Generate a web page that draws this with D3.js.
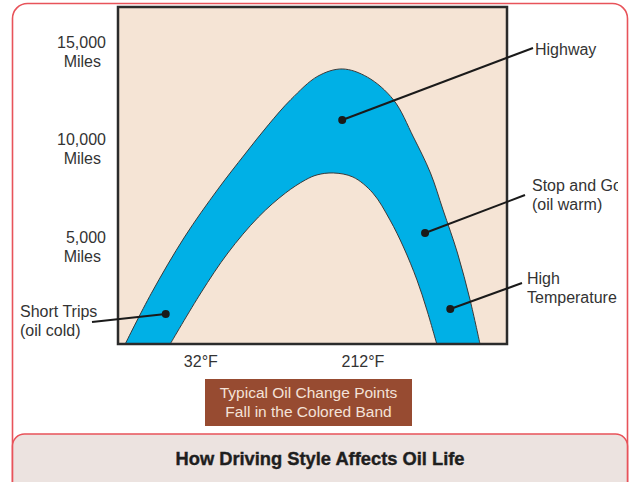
<!DOCTYPE html>
<html>
<head>
<meta charset="utf-8">
<script src="https://cdn.jsdelivr.net/npm/d3@7"></script>
<style>
  html, body { margin: 0; padding: 0; background: #fff; }
  text { font-family: "Liberation Sans", Arial, Helvetica, sans-serif; }
</style>
</head>
<body>
<div id="chart"></div>
<script>
// data: temperature (°F) vs. miles between oil changes
const outerTemp  = [-52, -23, 14, 51, 81, 107, 132, 162, 189, 217, 246, 268, 287, 301, 317, 331, 342];
const outerMiles = [0, 2600, 5500, 7950, 9750, 11250, 12550, 13750, 14120, 13700, 12530, 10630, 8780, 6880, 4670, 2260, 0];
const innerTemp  = [-2, 32, 62, 96, 126, 148, 161, 179, 201, 223, 242, 257, 272, 283, 294];
const innerMiles = [0, 2620, 4670, 6520, 7750, 8420, 8680, 8780, 8570, 7750, 6370, 4980, 3290, 1750, 0];

const yTicks = [5000, 10000, 15000];
const yTickLabels = ["5,000", "10,000", "15,000"];
const xTicks = [32, 212];
const xTickLabels = ["32°F", "212°F"];

// callouts: point on the band + label text
const noteNames = ["Highway", "Stop and Go", "High Temperature", "Short Trips"];
const noteTemp  = [189, 281, 309, -7];
const noteMiles = [11500, 5700, 1800, 1540];
const noteLines = [["Highway"], ["Stop and Go", "(oil warm)"], ["High", "Temperature"], ["Short Trips", "(oil cold)"]];

const width = 634, height = 482;
const plot = { left: 118, top: 7, right: 507, bottom: 344 };

const svg = d3.select("#chart").append("svg")
  .attr("width", width).attr("height", height)
  .style("display", "block");

// outer red frame
svg.append("rect")
  .attr("x", 12.5).attr("y", 3.5).attr("width", 615).attr("height", 520)
  .attr("rx", 15).attr("fill", "#fff")
  .attr("stroke", "#e8535a").attr("stroke-width", 1.6);

const x = d3.scaleLinear().domain([-60, 372]).range([plot.left, plot.right]);
const y = d3.scaleLinear().domain([0, 17300]).range([plot.bottom, plot.top]);

// plot background
svg.append("rect")
  .attr("x", plot.left).attr("y", plot.top)
  .attr("width", plot.right - plot.left).attr("height", plot.bottom - plot.top)
  .attr("fill", "#f5e4d5");

const outer = outerTemp.map((t, i) => [t, outerMiles[i]]);
const inner = innerTemp.map((t, i) => [t, innerMiles[i]]);

const area = d3.area()
  .x(d => x(d[0])).y0(y(0)).y1(d => y(d[1]))
  .curve(d3.curveCatmullRom.alpha(0.5));
const line = d3.line()
  .x(d => x(d[0])).y(d => y(d[1]))
  .curve(d3.curveCatmullRom.alpha(0.5));

svg.append("path").datum(outer).attr("d", area).attr("fill", "#00b0e6");
svg.append("path").datum(inner).attr("d", area).attr("fill", "#f5e4d5");
svg.append("path").datum(outer).attr("d", line)
  .attr("fill", "none").attr("stroke", "#3a3a3a").attr("stroke-width", 1);
svg.append("path").datum(inner).attr("d", line)
  .attr("fill", "none").attr("stroke", "#3a3a3a").attr("stroke-width", 1);

// plot frame
svg.append("rect")
  .attr("x", plot.left).attr("y", plot.top)
  .attr("width", plot.right - plot.left).attr("height", plot.bottom - plot.top)
  .attr("fill", "none").attr("stroke", "#2b2b2b").attr("stroke-width", 2.5);

// y labels (value + "Miles")
const yl = svg.append("g").selectAll("g").data(yTicks).enter().append("g");
yl.append("text")
  .attr("x", 106).attr("y", d => y(d) - 4)
  .attr("text-anchor", "end").attr("font-size", 16).attr("fill", "#333")
  .text((d, i) => yTickLabels[i]);
yl.append("text")
  .attr("x", 101).attr("y", d => y(d) + 15)
  .attr("text-anchor", "end").attr("font-size", 16).attr("fill", "#333")
  .text("Miles");

// x labels
svg.append("g").selectAll("text").data(xTicks).enter().append("text")
  .attr("x", d => x(d)).attr("y", 367)
  .attr("text-anchor", "middle").attr("font-size", 16).attr("fill", "#333")
  .text((d, i) => xTickLabels[i]);

// callouts
const clip = svg.append("clipPath").attr("id", "clipText");
clip.append("rect").attr("x", 0).attr("y", 0).attr("width", 618).attr("height", height);

const labelPos = [[535, 55], [532, 191], [527, 284], [20, 317]];
const lineEnd = [[533, 48], [525, 195], [522, 283], [92, 322]];

const notes = svg.append("g").selectAll("g").data(noteNames).enter().append("g");
notes.append("line")
  .attr("x1", (d, i) => x(noteTemp[i])).attr("y1", (d, i) => y(noteMiles[i]))
  .attr("x2", (d, i) => lineEnd[i][0]).attr("y2", (d, i) => lineEnd[i][1])
  .attr("stroke", "#1a1a1a").attr("stroke-width", 2);
notes.append("circle")
  .attr("cx", (d, i) => x(noteTemp[i])).attr("cy", (d, i) => y(noteMiles[i]))
  .attr("r", 4).attr("fill", "#1a1a1a");
notes.each(function(d, i) {
  const t = d3.select(this).append("text")
    .attr("clip-path", "url(#clipText)")
    .attr("font-size", 16).attr("fill", "#333");
  noteLines[i].forEach((s, j) => {
    t.append("tspan").attr("x", labelPos[i][0]).attr("y", labelPos[i][1] + j * 19).text(s);
  });
});

// caption box
svg.append("rect")
  .attr("x", 205).attr("y", 379).attr("width", 207).attr("height", 47)
  .attr("fill", "#974b31");
svg.append("text")
  .attr("x", 308.5).attr("y", 398).attr("text-anchor", "middle")
  .attr("font-size", 15.5).attr("fill", "#f4e2d8")
  .text("Typical Oil Change Points");
svg.append("text")
  .attr("x", 308.5).attr("y", 417).attr("text-anchor", "middle")
  .attr("font-size", 15.5).attr("fill", "#f4e2d8")
  .text("Fall in the Colored Band");

// title bar
svg.append("rect")
  .attr("x", 12.5).attr("y", 434).attr("width", 615).attr("height", 80)
  .attr("rx", 12).attr("fill", "#ece3e0")
  .attr("stroke", "#e8535a").attr("stroke-width", 1.6);
svg.append("text")
  .attr("x", 320).attr("y", 465).attr("text-anchor", "middle")
  .attr("font-size", 18.5).attr("font-weight", 900).attr("fill", "#1e1e1e")
  .attr("stroke", "#1e1e1e").attr("stroke-width", 0.4)
  .attr("textLength", 289).attr("lengthAdjust", "spacingAndGlyphs")
  .text("How Driving Style Affects Oil Life");
</script>
</body>
</html>
